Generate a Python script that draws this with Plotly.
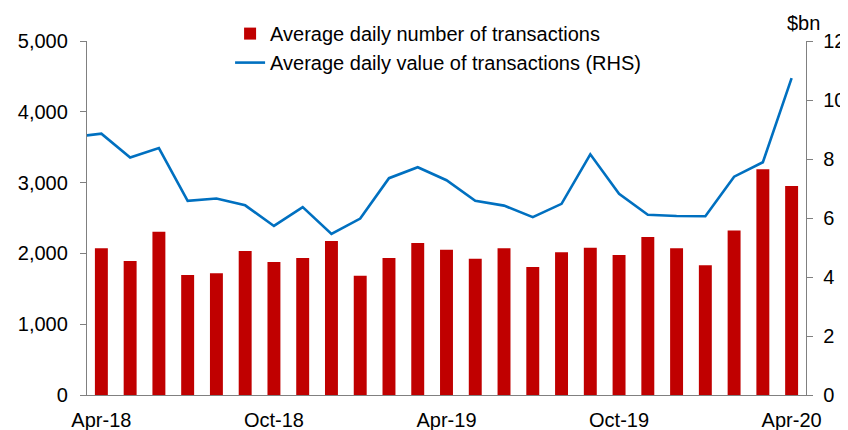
import plotly.graph_objects as go

# Month categories (line series starts one month earlier; it is clipped at the axis)
months = ["Mar-18", "Apr-18", "May-18", "Jun-18", "Jul-18", "Aug-18", "Sep-18", "Oct-18",
          "Nov-18", "Dec-18", "Jan-19", "Feb-19", "Mar-19", "Apr-19", "May-19",
          "Jun-19", "Jul-19", "Aug-19", "Sep-19", "Oct-19", "Nov-19", "Dec-19",
          "Jan-20", "Feb-20", "Mar-20", "Apr-20"]
bar_months = months[1:]

# Average daily number of transactions (LHS)
num_transactions = [2072, 1893, 2307, 1695, 1719, 2034, 1878, 1935, 2175, 1685,
                    1935, 2147, 2053, 1926, 2072, 1808, 2015, 2081, 1977, 2232,
                    2072, 1831, 2325, 3188, 2952]

# Average daily value of transactions, $bn (RHS)
value_transactions = [8.74, 8.86, 8.05, 8.37, 6.58, 6.66, 6.43, 5.73, 6.37, 5.46,
                      5.98, 7.35, 7.72, 7.28, 6.58, 6.42, 6.03, 6.48, 8.16, 6.82,
                      6.11, 6.07, 6.06, 7.40, 7.89, 10.74]

tick_labels = ["Apr-18", "Oct-18", "Apr-19", "Oct-19", "Apr-20"]

FONT = "Liberation Sans, Arial, sans-serif"
AXIS = "#808080"
FS = 20

fig = go.Figure()
fig.add_trace(go.Bar(
    x=bar_months, y=num_transactions,
    name="Average daily number of transactions",
    marker=dict(color="#C00000", line=dict(width=0)),
    yaxis="y",
))
fig.add_trace(go.Scatter(
    x=months, y=value_transactions,
    name="Average daily value of transactions (RHS)",
    mode="lines", line=dict(color="#0070C0", width=2.6),
    yaxis="y2",
))

# page body has an 8px margin, so the figure is 8px smaller than the window
fig.update_layout(
    width=840, height=422,
    margin=dict(l=79, r=42, t=33, b=35, autoexpand=False),
    paper_bgcolor="white", plot_bgcolor="white",
    font=dict(family=FONT, size=FS, color="#000000"),
    bargap=0.55,
    showlegend=True,
    legend=dict(
        x=0.199, y=1.076, xanchor="left", yanchor="top",
        bgcolor="rgba(0,0,0,0)", itemwidth=30, tracegroupgap=0,
        font=dict(family=FONT, size=FS, color="#000000"),
    ),
    xaxis=dict(
        type="category", categoryorder="array", categoryarray=months,
        range=[0.5, len(months) - 0.5],
        tickmode="array", tickvals=tick_labels, ticktext=tick_labels,
        showline=True, linecolor=AXIS, linewidth=1.3,
        ticks="", showgrid=False, zeroline=False, ticklabelstandoff=7,
        tickfont=dict(family=FONT, size=FS, color="#000000"),
    ),
    yaxis=dict(
        range=[0, 5000], tickvals=[0, 1000, 2000, 3000, 4000, 5000],
        tickformat=",d",
        showline=True, linecolor=AXIS, linewidth=1.3,
        ticks="outside", ticklen=6, tickcolor=AXIS, tickwidth=1.3,
        showgrid=False, zeroline=False, ticklabelstandoff=8,
        tickfont=dict(family=FONT, size=FS, color="#000000"),
    ),
    yaxis2=dict(
        overlaying="y", side="right",
        range=[0, 12], tickvals=[0, 2, 4, 6, 8, 10, 12],
        showline=True, linecolor=AXIS, linewidth=1.3,
        ticks="outside", ticklen=6, tickcolor=AXIS, tickwidth=1.3,
        showgrid=False, zeroline=False, ticklabelstandoff=6,
        tickfont=dict(family=FONT, size=FS, color="#000000"),
    ),
    annotations=[dict(
        text="$bn", xref="paper", yref="paper", x=1.0, y=1.0,
        xanchor="center", yanchor="bottom", yshift=5, xshift=-3, showarrow=False,
        font=dict(family=FONT, size=FS, color="#000000"),
    )],
)

fig.write_html("out.html")
